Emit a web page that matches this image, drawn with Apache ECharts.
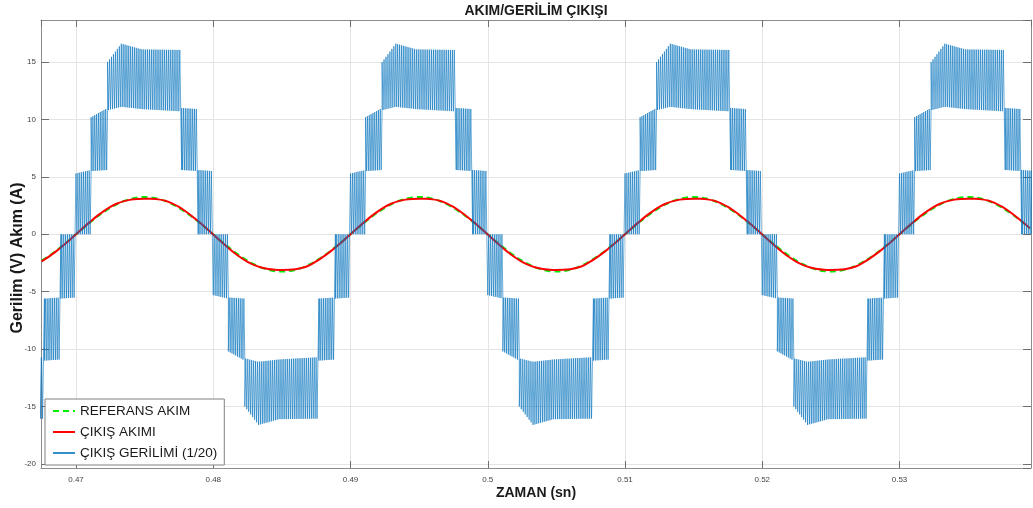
<!DOCTYPE html>
<html><head><meta charset="utf-8">
<script src="https://cdn.jsdelivr.net/npm/echarts@6/dist/echarts.min.js"></script>
<style>html,body{margin:0;padding:0;background:#fff}#c{width:1033px;height:508px}</style>
</head><body><div id="c"></div>
<script>
// ---------- texts ----------
const titleText = 'AKIM/GERİLİM ÇIKIŞI';
const xName = 'ZAMAN (sn)';
const yName = 'Gerilim (V) Akım (A)';
const seriesNames = ['REFERANS AKIM', 'ÇIKIŞ AKIMI', 'ÇIKIŞ GERİLİMİ (1/20)'];

// ---------- axes ----------
const xRange = [0.46745, 0.53958];
const yRange = [-20.35, 18.66];
const xTickStep = 0.01;
const yTickStep = 5;

// ---------- currents (sampled every 0.5 ms from 0.4675 s) ----------
const currentStart = 0.4675;
const currentStep = 0.0005;
const refCurrent = [
-2.30,-1.91,-1.48,-1.00,-0.51,0.00,0.51,1.00,1.48,1.91,2.30,2.63,2.90,3.09,3.21,3.25,3.21,3.09,2.90,2.63,2.30,1.91,1.48,1.00,0.51,0.00,-0.51,-1.00,-1.48,-1.91,-2.30,-2.63,-2.90,-3.09,-3.21,-3.25,-3.21,-3.09,-2.90,-2.63,
-2.30,-1.91,-1.48,-1.00,-0.51,0.00,0.51,1.00,1.48,1.91,2.30,2.63,2.90,3.09,3.21,3.25,3.21,3.09,2.90,2.63,2.30,1.91,1.48,1.00,0.51,0.00,-0.51,-1.00,-1.48,-1.91,-2.30,-2.63,-2.90,-3.09,-3.21,-3.25,-3.21,-3.09,-2.90,-2.63,
-2.30,-1.91,-1.48,-1.00,-0.51,0.00,0.51,1.00,1.48,1.91,2.30,2.63,2.90,3.09,3.21,3.25,3.21,3.09,2.90,2.63,2.30,1.91,1.48,1.00,0.51,0.00,-0.51,-1.00,-1.48,-1.91,-2.30,-2.63,-2.90,-3.09,-3.21,-3.25,-3.21,-3.09,-2.90,-2.63,
-2.30,-1.91,-1.48,-1.00,-0.51,0.00,0.51,1.00,1.48,1.91,2.30,2.63,2.90,3.09,3.21,3.25,3.21,3.09,2.90,2.63,2.30,1.91,1.48,1.00,0.51
];
const outCurrent = [
-2.36,-1.96,-1.53,-1.04,-0.53,0.00,0.54,1.06,1.56,2.00,2.38,2.68,2.89,3.02,3.08,3.10,3.09,3.04,2.92,2.70,2.38,1.98,1.53,1.04,0.52,-0.02,-0.56,-1.08,-1.58,-2.02,-2.40,-2.69,-2.89,-3.02,-3.08,-3.10,-3.09,-3.04,-2.92,-2.70,
-2.36,-1.96,-1.53,-1.04,-0.53,0.00,0.54,1.06,1.56,2.00,2.38,2.68,2.89,3.02,3.08,3.10,3.09,3.04,2.92,2.70,2.38,1.98,1.53,1.04,0.52,-0.02,-0.56,-1.08,-1.58,-2.02,-2.40,-2.69,-2.89,-3.02,-3.08,-3.10,-3.09,-3.04,-2.92,-2.70,
-2.36,-1.96,-1.53,-1.04,-0.53,0.00,0.54,1.06,1.56,2.00,2.38,2.68,2.89,3.02,3.08,3.10,3.09,3.04,2.92,2.70,2.38,1.98,1.53,1.04,0.52,-0.02,-0.56,-1.08,-1.58,-2.02,-2.40,-2.69,-2.89,-3.02,-3.08,-3.10,-3.09,-3.04,-2.92,-2.70,
-2.36,-1.96,-1.53,-1.04,-0.53,0.00,0.54,1.06,1.56,2.00,2.38,2.68,2.89,3.02,3.08,3.10,3.09,3.04,2.92,2.70,2.38,1.98,1.53,1.04,0.52
];

// ---------- output voltage (1/20), multilevel PWM ----------
const halfCycleStarts = [0.46, 0.47, 0.48, 0.49, 0.50, 0.51, 0.52, 0.53];
const halfCycleSigns  = [-1, 1, -1, 1, -1, 1, -1, 1];
// level segments within one half cycle (ms from zero crossing)
const segStartMs = [0.0, 1.1, 2.3, 3.3, 4.8, 7.7, 8.9];
const segEndMs   = [1.1, 2.3, 3.3, 4.8, 7.7, 8.9, 10.0];
const innerStart = [0.0, 5.5, 10.8, 11.1, 10.9, 5.6, 0.0];
const innerEnd   = [0.0, 5.6, 11.1, 10.9, 10.7, 5.5, 0.0];
const outerStart = [5.3, 10.2, 15.0, 16.6, 16.1, 11.0, 5.6];
const outerEnd   = [5.6, 11.0, 16.6, 16.1, 16.05, 10.9, 5.5];
const pwmPeriodMs = 0.14;

// ---------- build series data ----------
const refData = refCurrent.map((v, i) => [currentStart + i * currentStep, v]);
const outData = outCurrent.map((v, i) => [currentStart + i * currentStep, v]);

const voltData = [];
halfCycleStarts.forEach((h, hi) => {
  const s = halfCycleSigns[hi];
  segStartMs.forEach((a, si) => {
    const b = segEndMs[si];
    const n = Math.max(1, Math.round((b - a) / pwmPeriodMs));
    const p = (b - a) / n;
    const lerp = (v0, v1, t) => v0 + (v1 - v0) * ((t - a) / (b - a));
    for (let k = 0; k < n; k++) {
      const ta = a + k * p, tb = ta + p / 2;
      const inA = lerp(innerStart[si], innerEnd[si], ta), outA = lerp(outerStart[si], outerEnd[si], ta);
      const inB = lerp(innerStart[si], innerEnd[si], tb), outB = lerp(outerStart[si], outerEnd[si], tb);
      voltData.push([h + ta / 1000, s * inA], [h + ta / 1000, s * outA],
                    [h + tb / 1000, s * outB], [h + tb / 1000, s * inB]);
    }
  });
});

// ---------- chart ----------
const FONT = 'Liberation Sans, Arial, Helvetica, sans-serif';
const axisLineStyle = { color: '#8c8c8c', width: 1 };
const tickStyle = { color: '#707070', width: 1 };
const gridLine = { show: true, lineStyle: { color: '#e4e4e4', width: 1 } };

const chart = echarts.init(document.getElementById('c'), null, { renderer: 'canvas' });
chart.setOption({
  animation: false,
  textStyle: { fontFamily: FONT },
  grid: { left: 41, right: 2, top: 20, bottom: 40, show: false, containLabel: false, outerBoundsMode: 'none' },
  legend: {
    orient: 'vertical', left: 45, top: 399,
    itemWidth: 22, itemHeight: 14, itemGap: 7,
    padding: [5, 7, 5, 7],
    backgroundColor: '#ffffff', borderColor: '#808080', borderWidth: 1, borderRadius: 0,
    itemStyle: { opacity: 0, borderWidth: 0 },
    textStyle: { fontSize: 13.5, color: '#1a1a1a', fontFamily: FONT },
    data: seriesNames
  },
  xAxis: [{
    type: 'value', position: 'bottom', min: xRange[0], max: xRange[1],
    minInterval: xTickStep, maxInterval: xTickStep, splitNumber: 7,
    axisLine: { show: true, onZero: false, lineStyle: axisLineStyle },
    axisTick: { show: true, inside: true, length: 7, lineStyle: tickStyle },
    axisLabel: { fontSize: 8, color: '#444', margin: 8, showMinLabel: false, showMaxLabel: false },
    splitLine: gridLine,
    name: xName, nameLocation: 'middle', nameGap: 18, nameMoveOverlap: false,
    nameTextStyle: { fontWeight: 'bold', fontSize: 14, color: '#1a1a1a', fontFamily: FONT }
  }, {
    type: 'value', position: 'top', min: xRange[0], max: xRange[1],
    minInterval: xTickStep, maxInterval: xTickStep, splitNumber: 7,
    axisLine: { show: true, onZero: false, lineStyle: axisLineStyle },
    axisTick: { show: true, inside: true, length: 7, lineStyle: tickStyle },
    axisLabel: { show: false }, splitLine: { show: false },
    name: titleText, nameLocation: 'middle', nameGap: 2, nameMoveOverlap: false,
    nameTextStyle: { fontWeight: 'bold', fontSize: 14, color: '#1a1a1a', fontFamily: FONT }
  }],
  yAxis: [{
    type: 'value', position: 'left', min: yRange[0], max: yRange[1],
    minInterval: yTickStep, maxInterval: yTickStep, splitNumber: 8,
    axisLine: { show: true, onZero: false, lineStyle: axisLineStyle },
    axisTick: { show: true, inside: true, length: 8, lineStyle: tickStyle },
    axisLabel: { fontSize: 8, color: '#444', margin: 5, showMinLabel: false, showMaxLabel: false },
    splitLine: gridLine,
    name: yName, nameLocation: 'middle', nameGap: 15, nameMoveOverlap: false,
    nameTextStyle: { fontWeight: 'bold', fontSize: 16, color: '#1a1a1a', fontFamily: FONT, padding: [0, 28, 0, 0] }
  }, {
    type: 'value', position: 'right', min: yRange[0], max: yRange[1],
    minInterval: yTickStep, maxInterval: yTickStep, splitNumber: 8,
    axisLine: { show: true, onZero: false, lineStyle: axisLineStyle },
    axisTick: { show: true, inside: true, length: 8, lineStyle: tickStyle },
    axisLabel: { show: false }, splitLine: { show: false }
  }],
  series: [{
    name: seriesNames[0], type: 'line', data: refData, xAxisIndex: 0, yAxisIndex: 0,
    symbol: 'none', smooth: 0.3, clip: true, silent: true,
    lineStyle: { color: '#00ee00', width: 2, type: [6, 4] },
    itemStyle: { color: '#00ee00' }
  }, {
    name: seriesNames[1], type: 'line', data: outData, xAxisIndex: 0, yAxisIndex: 0,
    symbol: 'none', smooth: 0.3, clip: true, silent: true,
    lineStyle: { color: '#ff0000', width: 2 },
    itemStyle: { color: '#ff0000' }
  }, {
    name: seriesNames[2], type: 'line', data: voltData, xAxisIndex: 0, yAxisIndex: 0,
    symbol: 'none', clip: true, silent: true,
    lineStyle: { color: '#0072BD', width: 0.75, opacity: 0.8 },
    itemStyle: { color: '#0072BD' }
  }]
});
</script></body></html>
